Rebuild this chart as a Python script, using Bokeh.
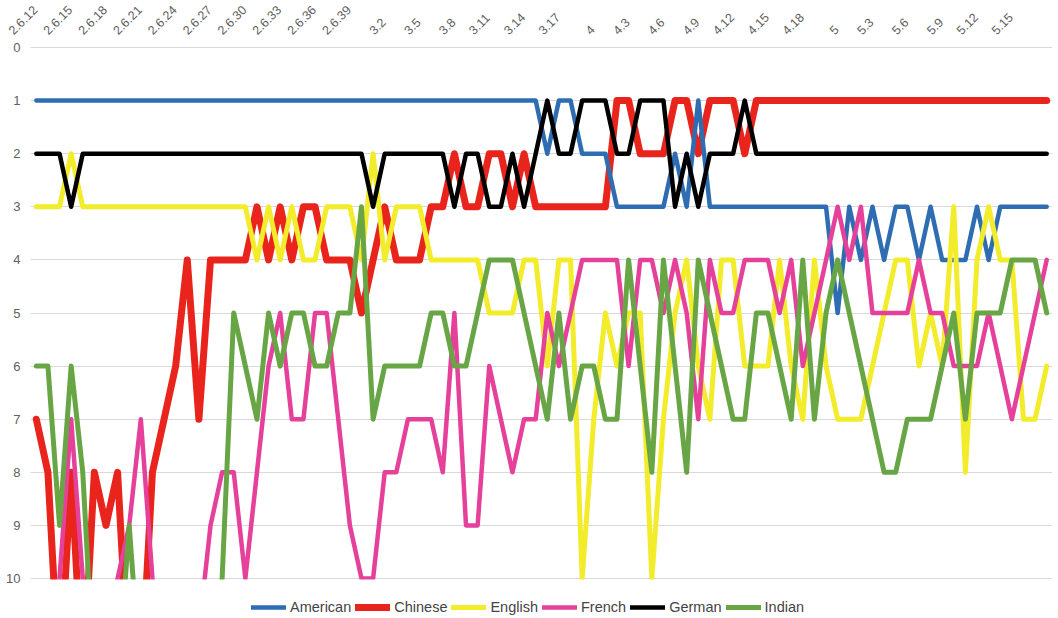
from bokeh.plotting import figure
from bokeh.models import Range1d, FixedTicker, Legend, LegendItem, LabelSet, ColumnDataSource, BoxAnnotation
from bokeh.core.properties import value
from bokeh.embed import file_html
from bokeh.resources import INLINE
import math

versions = [
    "2.6.12", "2.6.13", "2.6.14", "2.6.15", "2.6.16", "2.6.17", "2.6.18", "2.6.19", "2.6.20", "2.6.21",
    "2.6.22", "2.6.23", "2.6.24", "2.6.25", "2.6.26", "2.6.27", "2.6.28", "2.6.29", "2.6.30", "2.6.31",
    "2.6.32", "2.6.33", "2.6.34", "2.6.35", "2.6.36", "2.6.37", "2.6.38", "2.6.39",
    "3.0", "3.1", "3.2", "3.3", "3.4", "3.5", "3.6", "3.7", "3.8", "3.9", "3.10", "3.11",
    "3.12", "3.13", "3.14", "3.15", "3.16", "3.17", "3.18", "3.19",
    "4", "4.1", "4.2", "4.3", "4.4", "4.5", "4.6", "4.7", "4.8", "4.9", "4.10",
    "4.11", "4.12", "4.13", "4.14", "4.15", "4.16", "4.17", "4.18", "4.19", "4.20",
    "5", "5.1", "5.2", "5.3", "5.4", "5.5", "5.6", "5.7", "5.8", "5.9", "5.10",
    "5.11", "5.12", "5.13", "5.14", "5.15", "5.16", "5.17", "5.18",
]

# rank of each language per kernel version (values > 10 run off the chart)
american = [1, 1, 1, 1, 1, 1, 1, 1, 1, 1,
            1, 1, 1, 1, 1, 1, 1, 1, 1, 1,
            1, 1, 1, 1, 1, 1, 1, 1, 1, 1,
            1, 1, 1, 1, 1, 1, 1, 1, 1, 1,
            1, 1, 1, 1, 2, 1, 1, 2, 2, 2,
            3, 3, 3, 3, 3, 2, 3, 1, 3, 3,
            3, 3, 3, 3, 3, 3, 3, 3, 3, 5,
            3, 4, 3, 4, 3, 3, 4, 3, 4, 4,
            4, 3, 4, 3, 3, 3, 3, 3]
chinese = [7, 8, 12, 8, 12, 8, 9, 8, 12, 12,
           8, 7, 6, 4, 7, 4, 4, 4, 4, 3,
           4, 3, 4, 3, 3, 4, 4, 4, 5, 4,
           3, 4, 4, 4, 3, 3, 2, 3, 3, 2,
           2, 3, 2, 3, 3, 3, 3, 3, 3, 3,
           1, 1, 2, 2, 2, 1, 1, 2, 1, 1,
           1, 2, 1, 1, 1, 1, 1, 1, 1, 1,
           1, 1, 1, 1, 1, 1, 1, 1, 1, 1,
           1, 1, 1, 1, 1, 1, 1, 1]
english = [3, 3, 3, 2, 3, 3, 3, 3, 3, 3,
           3, 3, 3, 3, 3, 3, 3, 3, 3, 4,
           3, 4, 3, 4, 4, 3, 3, 3, 4, 2,
           4, 3, 3, 3, 4, 4, 4, 4, 4, 5,
           5, 5, 4, 4, 6, 4, 4, 10, 7, 5,
           6, 5, 5, 10, 7, 5, 4, 6, 7, 4,
           4, 6, 6, 6, 4, 6, 7, 4, 6, 7,
           7, 7, 6, 5, 4, 4, 6, 5, 6, 3,
           8, 4, 3, 4, 4, 7, 7, 6]
french = [12, 12, 10, 7, 10, 12, 12, 10, 9, 7,
          10, 12, 12, 12, 11, 9, 8, 8, 10, 8,
          6, 5, 7, 7, 5, 5, 7, 9, 10, 10,
          8, 8, 7, 7, 7, 8, 5, 9, 9, 6,
          7, 8, 7, 7, 5, 6, 5, 4, 4, 4,
          4, 6, 4, 4, 5, 4, 5, 7, 4, 5,
          5, 4, 4, 4, 5, 4, 6, 5, 4, 3,
          4, 3, 5, 5, 5, 5, 4, 5, 5, 6,
          6, 6, 5, 6, 7, 6, 5, 4]
german = [2, 2, 2, 3, 2, 2, 2, 2, 2, 2,
          2, 2, 2, 2, 2, 2, 2, 2, 2, 2,
          2, 2, 2, 2, 2, 2, 2, 2, 2, 3,
          2, 2, 2, 2, 2, 2, 3, 2, 2, 3,
          3, 2, 3, 2, 1, 2, 2, 1, 1, 1,
          2, 2, 1, 1, 1, 3, 2, 3, 2, 2,
          2, 1, 2, 2, 2, 2, 2, 2, 2, 2,
          2, 2, 2, 2, 2, 2, 2, 2, 2, 2,
          2, 2, 2, 2, 2, 2, 2, 2]
indian = [6, 6, 9, 6, 8, 12, 12, 12, 9, 12,
          12, 12, 12, 12, 12, 12, 10, 5, 6, 7,
          5, 6, 5, 5, 6, 6, 5, 5, 3, 7,
          6, 6, 6, 6, 5, 5, 6, 6, 5, 4,
          4, 4, 5, 6, 7, 5, 7, 6, 6, 7,
          7, 4, 6, 8, 4, 6, 8, 4, 5, 6,
          7, 7, 5, 5, 6, 7, 4, 7, 5, 4,
          5, 6, 7, 8, 8, 7, 7, 7, 6, 5,
          7, 5, 5, 5, 4, 4, 4, 5]

series = [
    ("American", american, "#2f6db3", 4.5),
    ("Chinese", chinese, "#e8241d", 7),
    ("English", english, "#f2ec2b", 5),
    ("French", french, "#e5409a", 4.5),
    ("German", german, "#000000", 4.5),
    ("Indian", indian, "#68a545", 5),
]
draw_order = ["Chinese", "American", "English", "French", "Indian", "German"]

FONT = "Liberation Sans"
n = len(versions)
x = list(range(n))

W, H = 1058, 618
PLOT_LEFT, PLOT_RIGHT = 30, 1052          # pixel columns of the plotting area
PLOT_TOP, PLOT_BOTTOM = 47, 578           # pixel rows of rank 0 and rank 10
step = (PLOT_RIGHT - PLOT_LEFT) / n
unit = (PLOT_BOTTOM - PLOT_TOP) / 10.0
x_lo = -0.5 - PLOT_LEFT / step            # room for the rank labels / first version label
y_lo = 10 + (H - PLOT_BOTTOM) / unit      # room for the legend under rank 10
y_hi = -PLOT_TOP / unit                   # room for the version labels above rank 0

p = figure(width=W, height=H, output_backend="svg", toolbar_location=None,
           x_range=Range1d(x_lo, n - 0.5), y_range=Range1d(y_lo, y_hi),
           x_axis_location=None, min_border_left=0, min_border_right=W - PLOT_RIGHT,
           min_border_top=0, min_border_bottom=0)
p.outline_line_color = None
p.background_fill_color = "white"
p.border_fill_color = "white"
p.xgrid.grid_line_color = None
p.ygrid.grid_line_color = "#d9d9d9"
p.ygrid.grid_line_width = 1

ya = p.yaxis[0]
ya.fixed_location = -0.5
ya.ticker = FixedTicker(ticks=list(range(0, 11)))
ya.axis_line_color = None
ya.major_tick_line_color = None
ya.minor_tick_line_color = None
ya.major_tick_out = 0
ya.major_tick_in = 0
ya.major_label_standoff = 10
ya.major_label_text_font = FONT
ya.major_label_text_font_size = "13px"
ya.major_label_text_color = "#606060"

# grid lines start where the plotting area starts
p.add_layout(BoxAnnotation(right=-0.5, fill_color="white", fill_alpha=1.0,
                           line_color=None, level="underlay"))

renderers = {}
lookup = {name: (vals, col, w) for name, vals, col, w in series}
for name in draw_order:
    vals, col, w = lookup[name]
    renderers[name] = p.line(x, vals, line_color=col, line_width=w,
                             line_join="round", line_cap="round")

# ranks beyond 10 are cut off at the bottom edge of the chart
p.add_layout(BoxAnnotation(left=-0.5, top=10.02, bottom=y_lo + 1, fill_color="white",
                           fill_alpha=1.0, line_color=None, level="annotation"))

# category labels along the top (every third version), rotated 45 degrees,
# each ending at its own category position
label_idx = list(range(0, 85, 3))
label_txt = [versions[i] for i in label_idx]
fs = 12.5
def text_width(s):
    return sum(0.278 * fs if ch == "." else 0.556 * fs for ch in s)
lab_src = ColumnDataSource(dict(
    x=label_idx,
    y=[0] * len(label_idx),
    text=label_txt,
    xo=[-math.cos(math.pi / 4) * text_width(s) + 2 for s in label_txt],
))
labels = LabelSet(x="x", y="y", text="text", source=lab_src, x_offset="xo", y_offset=12,
                  angle=math.pi / 4, text_align="left", text_baseline="alphabetic",
                  text_font=value(FONT), text_font_size=f"{fs}px", text_color="#606060")
p.add_layout(labels)

legend = Legend(items=[LegendItem(label=name, renderers=[renderers[name]]) for name, _, _, _ in series],
                orientation="horizontal", location=(251, 3))
legend.border_line_color = None
legend.background_fill_alpha = 0
legend.padding = 0
legend.margin = 0
legend.spacing = 4
legend.glyph_width = 35
legend.glyph_height = 14
legend.label_standoff = 4
legend.label_text_font = FONT
legend.label_text_font_size = "14.5px"
legend.label_text_color = "#444444"
p.add_layout(legend, "center")

open("out.html", "w").write(file_html(p, INLINE))
